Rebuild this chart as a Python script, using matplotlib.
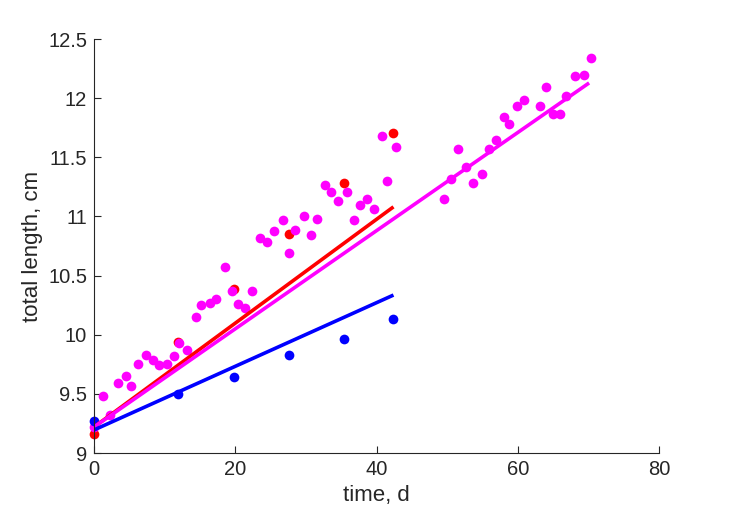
import numpy as np
import matplotlib
matplotlib.use("Agg")
import matplotlib.pyplot as plt

# DATA
blue_t = [0, 11.9, 19.8, 27.6, 35.4, 42.4]
blue_len = [9.27, 9.50, 9.64, 9.83, 9.96, 10.13]

red_t = [0, 11.9, 19.8, 27.6, 35.4, 42.4]
red_len = [9.16, 9.94, 10.39, 10.85, 11.28, 11.71]

magenta_t = [0, 1.3, 2.2, 3.4, 4.5, 5.2, 6.2, 7.3, 8.3, 9.2, 10.3, 11.3, 12.1,
             13.2, 14.4, 15.2, 16.4, 17.3, 18.6, 19.6, 20.4, 21.4, 22.4, 23.5,
             24.5, 25.5, 26.8, 27.6, 28.5, 29.7, 30.7, 31.6, 32.7, 33.6, 34.6,
             35.8, 36.8, 37.6, 38.6, 39.6, 40.8, 41.5, 42.7,
             49.6, 50.6, 51.6, 52.6, 53.6, 55.0, 55.9, 56.9, 58.0, 58.8, 59.9,
             60.9, 63.1, 64.0, 65.0, 66.0, 66.8, 68.1, 69.4, 70.3]
magenta_len = [9.22, 9.48, 9.32, 9.59, 9.65, 9.57, 9.755, 9.83, 9.79, 9.745,
               9.755, 9.82, 9.93, 9.87, 10.15, 10.25, 10.265, 10.30, 10.57,
               10.37, 10.26, 10.23, 10.37, 10.82, 10.78, 10.875, 10.97, 10.69,
               10.885, 11.005, 10.84, 10.98, 11.265, 11.205, 11.13, 11.21,
               10.97, 11.10, 11.15, 11.065, 11.68, 11.30, 11.59,
               11.15, 11.32, 11.57, 11.42, 11.28, 11.36, 11.57, 11.65, 11.845,
               11.78, 11.93, 11.985, 11.93, 12.095, 11.865, 11.87, 12.02,
               12.19, 12.195, 12.34]

# model lines: intercept, slope, end time
red_fit = (9.22, 0.0439, 42.4)
magenta_fit = (9.22, 0.0415, 70.1)
blue_fit = (9.195, 0.0269, 42.4)

# PLOT
plt.rcParams['font.family'] = ['Liberation Sans', 'DejaVu Sans']
fig = plt.figure(figsize=(7.29, 5.21), dpi=100)
ax = fig.add_axes([0.129, 0.1305, 0.775, 0.7945])

ms = 7
lw = 2.6
ax.plot(red_t, red_len, 'o', color='#ff0000', ms=ms, mec='none', clip_on=False)
ax.plot(magenta_t, magenta_len, 'o', color='#ff00ff', ms=ms, mec='none', clip_on=False)
ax.plot(blue_t, blue_len, 'o', color='#0000ff', ms=ms, mec='none', clip_on=False)

for (b, m, tend), c in [(red_fit, '#ff0000'), (magenta_fit, '#ff00ff'), (blue_fit, '#0000ff')]:
    t = np.array([0, tend])
    ax.plot(t, b + m * t, color=c, lw=lw, solid_capstyle='butt')

ax.set_xlim(0, 80)
ax.set_ylim(9, 12.5)
ax.set_xticks([0, 20, 40, 60, 80])
ax.set_yticks([9, 9.5, 10, 10.5, 11, 11.5, 12, 12.5])
ax.set_yticklabels(['9', '9.5', '10', '10.5', '11', '11.5', '12', '12.5'])

ax.spines['top'].set_visible(False)
ax.spines['right'].set_visible(False)
for s in ['left', 'bottom']:
    ax.spines[s].set_color('#262626')
    ax.spines[s].set_linewidth(0.8)
ax.tick_params(direction='in', length=5, width=0.8, colors='#262626',
               labelsize=14.5, pad=5)

ax.set_xlabel("time, d", fontsize=16, color='#262626')
ax.set_ylabel("total length, cm", fontsize=16, color='#262626')

plt.savefig("out.png", dpi=100)
